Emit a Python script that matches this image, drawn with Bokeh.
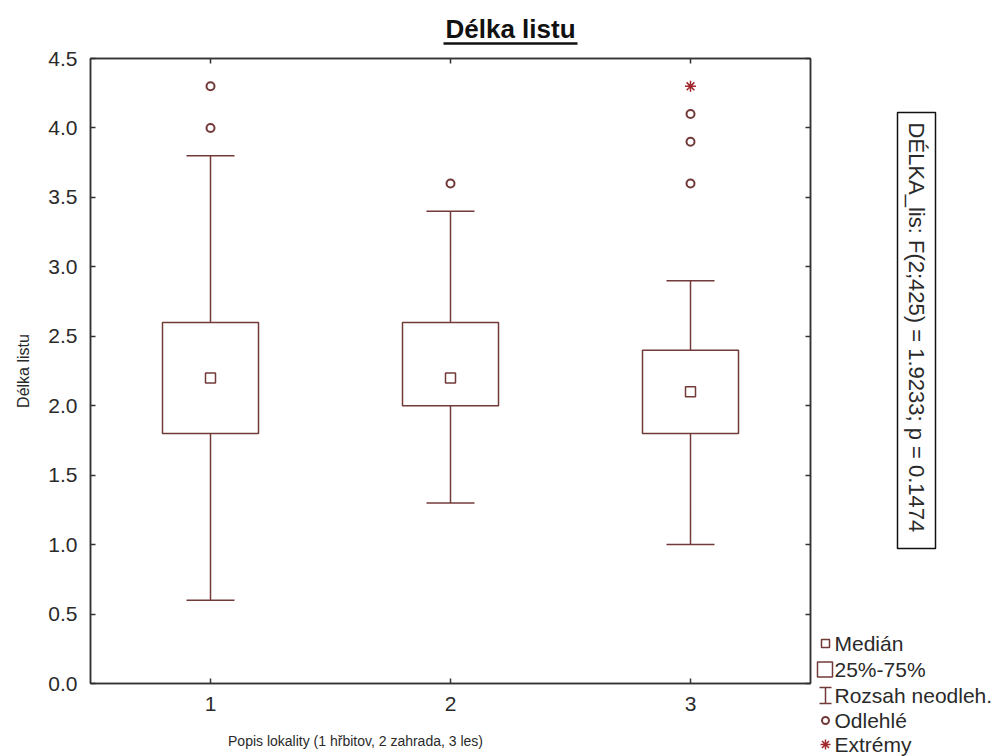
import numpy as np
from bokeh.plotting import figure
from bokeh.models import (ColumnDataSource, FixedTicker, LinearAxis, Range1d,
                          NumeralTickFormatter)
from bokeh.layouts import row, column
from bokeh.embed import file_html
from bokeh.resources import INLINE
from bokeh.core.properties import value

# --- data: leaf length by site (1 cemetery, 2 garden, 3 forest) ---
sites = [1, 2, 3]
whisker_low = [0.6, 1.3, 1.0]
q1 = [1.8, 2.0, 1.8]
medians = [2.2, 2.2, 2.1]
q3 = [2.6, 2.6, 2.4]
whisker_high = [3.8, 3.4, 2.9]
outlier_site = [1, 1, 2, 3, 3, 3]
outlier_value = [4.0, 4.3, 3.6, 3.6, 3.9, 4.1]
extreme_site = [3]
extreme_value = [4.3]
y_ticks = [0.0, 0.5, 1.0, 1.5, 2.0, 2.5, 3.0, 3.5, 4.0, 4.5]

title_text = "Délka listu"
x_label = "Popis lokality (1 hřbitov, 2 zahrada, 3 les)"
y_label = "Délka listu"
stat_text = "DÉLKA_lis:  F(2;425) = 1.9233; p = 0.1474"
legend_labels = ["Medián", "25%-75%", "Rozsah neodleh.", "Odlehlé", "Extrémy"]

FONT = "Liberation Sans"
MAROON = "#733a3a"
EXTREME = "#a0282d"
FRAME = "#333333"
TEXT = "#2a2a2a"

box_half = 0.2
cap_half = 0.1

x = np.array(sites, dtype=float)
boxes = ColumnDataSource(dict(
    x=x, left=x - box_half, right=x + box_half,
    q1=q1, q3=q3, med=medians, lo=whisker_low, hi=whisker_high,
    cap_l=x - cap_half, cap_r=x + cap_half,
))
outliers = ColumnDataSource(dict(x=outlier_site, y=outlier_value))
extremes = ColumnDataSource(dict(x=extreme_site, y=extreme_value))


def blank(fig):
    """Plain drawing surface without axes, grid or outline."""
    fig.grid.visible = False
    fig.outline_line_color = None
    fig.background_fill_color = "white"
    fig.border_fill_color = "white"
    return fig


def panel(w, h, xr, yr):
    return blank(figure(width=w, height=h, x_range=Range1d(*xr), y_range=Range1d(*yr),
                        output_backend="svg", toolbar_location=None,
                        x_axis_location=None, y_axis_location=None,
                        min_border=0, min_border_left=0, min_border_right=0,
                        min_border_top=0, min_border_bottom=0))


# ---------------- main box plot ----------------
p = figure(width=812, height=683, x_range=Range1d(0.5, 3.5), y_range=Range1d(0, 4.5),
           output_backend="svg", toolbar_location=None,
           min_border_left=90, min_border_right=2, min_border_top=13, min_border_bottom=45)
p.background_fill_color = "white"
p.border_fill_color = "white"
p.grid.visible = False
p.outline_line_color = FRAME
p.outline_line_width = 1.5


def style_axis(ax, ticker, show_labels):
    ax.ticker = ticker
    ax.axis_line_color = FRAME
    ax.axis_line_width = 1.5
    ax.major_tick_in = 5
    ax.major_tick_out = 0
    ax.major_tick_line_color = FRAME
    ax.major_tick_line_width = 1.5
    ax.minor_tick_line_color = None
    ax.major_label_text_font = FONT
    if show_labels:
        ax.major_label_text_color = TEXT
        ax.major_label_text_font_size = "21px"
        ax.major_label_standoff = 13
    else:
        # tick marks only on the opposite frame edges
        ax.major_label_text_color = None
        ax.major_label_text_font_size = "0px"
        ax.major_label_standoff = 0


style_axis(p.xaxis[0], FixedTicker(ticks=sites), True)
style_axis(p.yaxis[0], FixedTicker(ticks=y_ticks), True)
p.yaxis[0].formatter = NumeralTickFormatter(format="0.0")
p.yaxis[0].axis_label = y_label
p.yaxis[0].axis_label_text_font = FONT
p.yaxis[0].axis_label_text_font_size = "16px"
p.yaxis[0].axis_label_text_font_style = "normal"
p.yaxis[0].axis_label_text_color = TEXT
p.yaxis[0].axis_label_standoff = 13

top_ax = LinearAxis()
style_axis(top_ax, FixedTicker(ticks=sites), False)
p.add_layout(top_ax, "above")
right_ax = LinearAxis()
style_axis(right_ax, FixedTicker(ticks=y_ticks), False)
p.add_layout(right_ax, "right")

# whiskers and caps
p.segment(x0="x", y0="q3", x1="x", y1="hi", source=boxes, line_color=MAROON, line_width=1.5)
p.segment(x0="x", y0="lo", x1="x", y1="q1", source=boxes, line_color=MAROON, line_width=1.5)
p.segment(x0="cap_l", y0="hi", x1="cap_r", y1="hi", source=boxes, line_color=MAROON, line_width=1.5)
p.segment(x0="cap_l", y0="lo", x1="cap_r", y1="lo", source=boxes, line_color=MAROON, line_width=1.5)
# interquartile boxes
p.quad(left="left", right="right", bottom="q1", top="q3", source=boxes,
       fill_color=None, line_color=MAROON, line_width=1.5)
# medians
p.scatter(x="x", y="med", source=boxes, marker="square", size=10,
          fill_color=None, line_color=MAROON, line_width=1.5)
# outliers and extremes
p.scatter(x="x", y="y", source=outliers, marker="circle", size=8,
          fill_color=None, line_color=MAROON, line_width=2)
p.scatter(x="x", y="y", source=extremes, marker="asterisk", size=11,
          line_color=EXTREME, line_width=1.5)

# ---------------- underlined title strip ----------------
top = panel(1004, 45, (0, 1004), (-45, 0))
top.text(x=[510], y=[-28], text=[title_text], text_font=value(FONT), text_font_size="26px",
         text_font_style="bold", text_color="#111111", text_align="center",
         text_baseline="middle")
top.segment(x0=[443], y0=[-43], x1=[577], y1=[-43], line_color="#111111", line_width=2.5)

# ---------------- x axis title strip (frame shares the plot's 90..810 span) ----------------
bottom = panel(812, 28, (90, 810), (-756, -728))
bottom.text(x=[355], y=[-740], text=[x_label], text_font=value(FONT), text_font_size="14px",
            text_color=TEXT, text_align="center", text_baseline="middle")

# ---------------- side strip: statistics box and key ----------------
s = panel(192, 711, (812, 1004), (-756, -45))
s.quad(left=[897], right=[935], bottom=[-548], top=[-112],
       fill_color=None, line_color="#111111", line_width=1.5)
s.text(x=[916], y=[-330], text=[stat_text], angle=-np.pi / 2,
       text_font=value(FONT), text_font_size="22px", text_color=TEXT,
       text_align="center", text_baseline="middle")

rows_y = [-643, -669, -695, -720, -744]
kx = 825
s.scatter(x=[kx], y=[rows_y[0]], marker="square", size=8, fill_color=None,
          line_color=MAROON, line_width=1.5)
s.quad(left=[kx - 8], right=[kx + 7], bottom=[rows_y[1] - 7.5], top=[rows_y[1] + 7.5],
       fill_color=None, line_color=MAROON, line_width=1.5)
s.segment(x0=[kx, kx - 6, kx - 6], y0=[rows_y[2] - 8, rows_y[2] - 8, rows_y[2] + 8],
          x1=[kx, kx + 6, kx + 6], y1=[rows_y[2] + 8, rows_y[2] - 8, rows_y[2] + 8],
          line_color=MAROON, line_width=1.5)
s.scatter(x=[kx], y=[rows_y[3]], marker="circle", size=7, fill_color=None,
          line_color=MAROON, line_width=2)
s.scatter(x=[kx], y=[rows_y[4]], marker="asterisk", size=10, line_color=EXTREME,
          line_width=1.5)
s.text(x=[kx + 9] * 5, y=rows_y, text=legend_labels, text_font=value(FONT),
       text_font_size="21px", text_color=TEXT, text_align="left", text_baseline="middle")

layout = column(top, row(column(p, bottom), s))
open("out.html", "w").write(file_html(layout, INLINE))
